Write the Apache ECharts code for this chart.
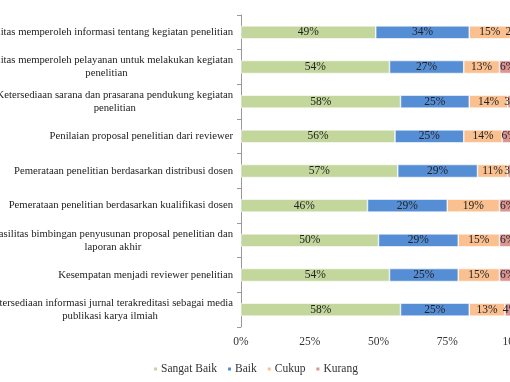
<!DOCTYPE html>
<html><head><meta charset="utf-8">
<script src="https://cdn.jsdelivr.net/npm/echarts@6/dist/echarts.min.js"></script>
<style>html,body{margin:0;padding:0;background:#fff}#c{width:510px;height:382px}</style>
</head><body><div id="c"></div>
<script>
var categories = [
  "Fasilitas memperoleh informasi tentang kegiatan penelitian",
  "Fasilitas memperoleh pelayanan untuk melakukan kegiatan\npenelitian",
  "Ketersediaan sarana dan prasarana pendukung kegiatan\npenelitian",
  "Penilaian proposal penelitian dari reviewer",
  "Pemerataan penelitian berdasarkan distribusi dosen",
  "Pemerataan penelitian berdasarkan kualifikasi dosen",
  "Fasilitas bimbingan penyusunan proposal penelitian dan\nlaporan akhir",
  "Kesempatan menjadi reviewer penelitian",
  "Ketersediaan informasi jurnal terakreditasi sebagai media\npublikasi karya ilmiah"
];
var seriesNames = ["Sangat Baik", "Baik", "Cukup", "Kurang"];
var sangatBaik = [49, 54, 58, 56, 57, 46, 50, 54, 58];
var baik       = [34, 27, 25, 25, 29, 29, 29, 25, 25];
var cukup      = [15, 13, 14, 14, 11, 19, 15, 15, 13];
var kurang     = [2, 6, 3, 6, 3, 6, 6, 6, 4];
var xTicks = ["0%", "25%", "50%", "75%", "100%"];
var colors = ["#C3D69B", "#558ED5", "#FAC090", "#D99694"];

var font = "Liberation Serif";
var chart = echarts.init(document.getElementById('c'));
function mk(name, data, color) {
  return {
    name: name, type: 'bar', stack: 'total', data: data, barWidth: 13,
    itemStyle: { color: color, borderColor: '#ffffff', borderWidth: 0.6 },
    label: { show: true, position: 'inside', formatter: '{c}%', color: '#222',
      fontFamily: font, fontSize: 11.5 }
  };
}
chart.setOption({
  animation: false,
  textStyle: { fontFamily: font },
  grid: { left: 241, right: -6, top: 15, bottom: 55, containLabel: false, outerBoundsMode: 'none' },
  legend: {
    top: 358, left: 'center', itemWidth: 5, itemHeight: 5, itemGap: 9,
    icon: 'rect',
    textStyle: { fontFamily: font, fontSize: 11.5, color: '#333', padding: [0, 0, 0, -2] },
    data: seriesNames
  },
  xAxis: {
    type: 'value', min: 0, max: 100, interval: 25,
    axisLine: { show: false }, axisTick: { show: false },
    splitLine: { show: false },
    axisLabel: { fontFamily: font, fontSize: 11.5, color: '#333', margin: 9,
      formatter: function (v) { return xTicks[v / 25]; } }
  },
  yAxis: {
    type: 'category', data: categories, inverse: true,
    axisLine: { show: true, lineStyle: { color: '#999' } },
    axisTick: { show: true, length: 4, lineStyle: { color: '#999' } },
    axisLabel: {
      margin: 8, color: '#222', fontFamily: font, fontSize: 10.7, lineHeight: 13,
      formatter: function (v) {
        return v.split('\n').map(function (s) { return '{a|' + s + '}'; }).join('\n');
      },
      rich: { a: { align: 'center', fontFamily: font, fontSize: 10.7, lineHeight: 13, color: '#222' } }
    }
  },
  series: [
    mk(seriesNames[0], sangatBaik, colors[0]),
    mk(seriesNames[1], baik, colors[1]),
    mk(seriesNames[2], cukup, colors[2]),
    mk(seriesNames[3], kurang, colors[3])
  ]
});
</script></body></html>
